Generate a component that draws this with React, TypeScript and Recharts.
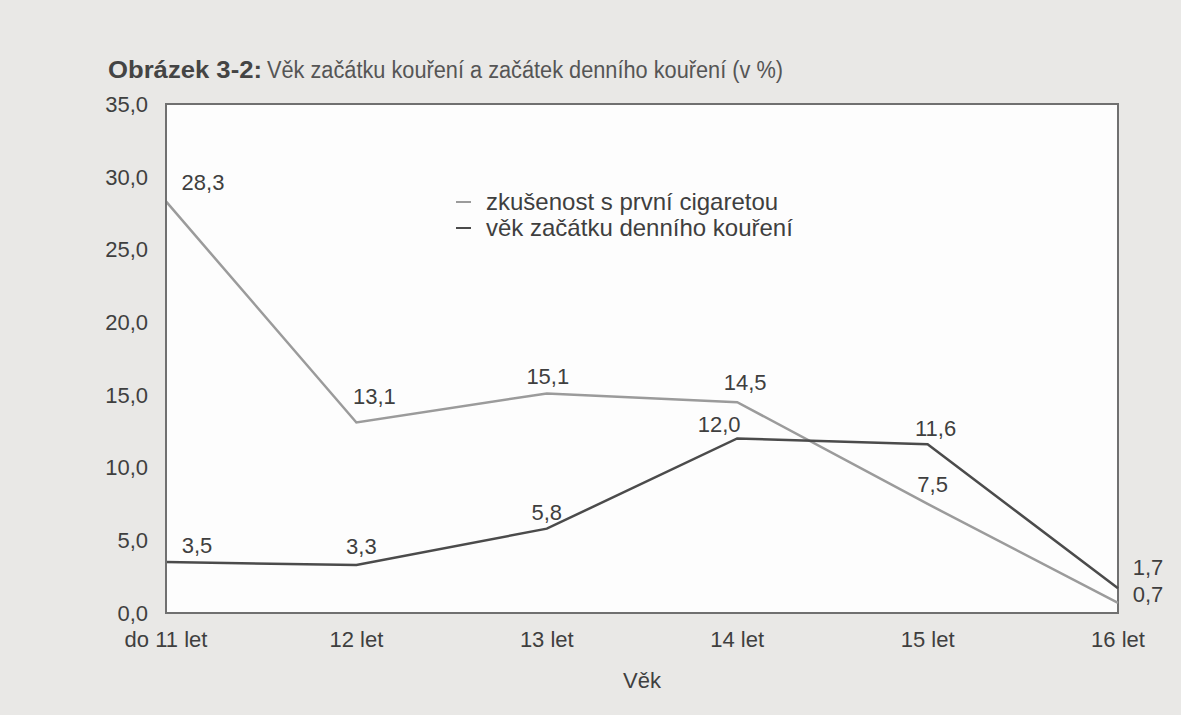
import React from 'react';
import { LineChart, Line, XAxis, YAxis, ReferenceArea, LabelList } from 'recharts';

const categories = ['do 11 let', '12 let', '13 let', '14 let', '15 let', '16 let'];
const firstCigarette = [28.3, 13.1, 15.1, 14.5, 7.5, 0.7];
const dailySmoking = [3.5, 3.3, 5.8, 12.0, 11.6, 1.7];
const yTicks = [0, 5, 10, 15, 20, 25, 30, 35];
const seriesNames = ['zkušenost s první cigaretou', 'věk začátku denního kouření'];

const data = categories.map((c, i) => ({ cat: c, first: firstCigarette[i], daily: dailySmoking[i] }));

// label placement (style): offset of label centre from point
const OFF_FIRST = [[37, -19], [18, -26], [1, -17], [8, -20], [5, -19], [30, -8]];
const OFF_DAILY = [[31, -17], [5, -19], [0, -16], [-18, -14], [8, -16], [30, -21]];

const LIGHT = '#9b9b9b';
const DARK = '#4b4b4b';
const TEXT = '#3f3f3f';
const FONT = '"Liberation Sans", Arial, Helvetica, sans-serif';
const FS = 22;

const fmt = (v: number) => v.toFixed(1).replace('.', ',');

const makeLabel = (offs: number[][]) => (props: any) => {
  const { x, y, value, index } = props;
  const o = offs[index] || [0, -16];
  return (
    <text x={x + o[0]} y={y + o[1]} textAnchor="middle" dominantBaseline="central" fill={TEXT} fontSize={FS} fontFamily={FONT}>
      {fmt(Number(value))}
    </text>
  );
};

const LegendBox = () => (
  <div style={{ position: 'absolute', left: 456, top: 189, fontFamily: FONT, fontSize: 24, color: TEXT, lineHeight: '26px' }}>
    {seriesNames.map((n, i) => (
      <div key={n} style={{ display: 'flex', alignItems: 'center' }}>
        <span style={{ display: 'inline-block', width: 15, height: 2, background: i === 0 ? LIGHT : DARK, marginRight: 15 }} />
        <span>{n}</span>
      </div>
    ))}
  </div>
);

export default function App() {
  return (
    <div style={{ position: 'absolute', left: 0, top: 0, width: 1181, height: 715, background: '#e9e8e6', overflow: 'hidden' }}>
      <svg width={1181} height={100} style={{ position: 'absolute', left: 0, top: 0 }}>
        <text x={108} y={78} fontFamily='"Liberation Sans Narrow", "Liberation Sans", Arial, sans-serif' fontWeight="bold" fontSize={23} fill="#444" textLength={154} lengthAdjust="spacingAndGlyphs">Obrázek 3-2:</text>
        <text x={267} y={78} fontFamily='"Liberation Sans Narrow", "Liberation Sans", Arial, sans-serif' fontSize={23} fill="#555" textLength={516} lengthAdjust="spacingAndGlyphs">Věk začátku kouření a začátek denního kouření (v %)</text>
      </svg>
      <div style={{ position: 'absolute', left: 0, top: 0 }}>
        <LineChart width={1181} height={715} data={data} margin={{ top: 104, right: 63, bottom: 42, left: 0 }}>
          <ReferenceArea x1="do 11 let" x2="16 let" y1={0} y2={35} fill="#fdfdfd" fillOpacity={1} stroke="#707070" strokeWidth={2} />
          <XAxis
            dataKey="cat"
            height={60}
            axisLine={{ stroke: '#707070', strokeWidth: 2 }}
            tickLine={false}
            tickSize={0}
            tickMargin={18}
            tick={{ fill: TEXT, fontSize: FS, fontFamily: FONT }}
            interval={0}
            label={{ value: 'Věk', position: 'bottom', offset: -1, fill: TEXT, fontSize: FS, fontFamily: FONT }}
          />
          <YAxis
            width={166}
            domain={[0, 35]}
            ticks={yTicks}
            axisLine={{ stroke: '#707070', strokeWidth: 2 }}
            tickLine={false}
            tickSize={0}
            tickMargin={18}
            tickFormatter={fmt}
            tick={{ fill: TEXT, fontSize: FS, fontFamily: FONT }}
          />
          <Line dataKey="first" name={seriesNames[0]} stroke={LIGHT} strokeWidth={2.5} dot={false} activeDot={false} isAnimationActive={false}>
            <LabelList dataKey="first" content={makeLabel(OFF_FIRST)} />
          </Line>
          <Line dataKey="daily" name={seriesNames[1]} stroke={DARK} strokeWidth={2.5} dot={false} activeDot={false} isAnimationActive={false}>
            <LabelList dataKey="daily" content={makeLabel(OFF_DAILY)} />
          </Line>
        </LineChart>
      </div>
      <LegendBox />
    </div>
  );
}
